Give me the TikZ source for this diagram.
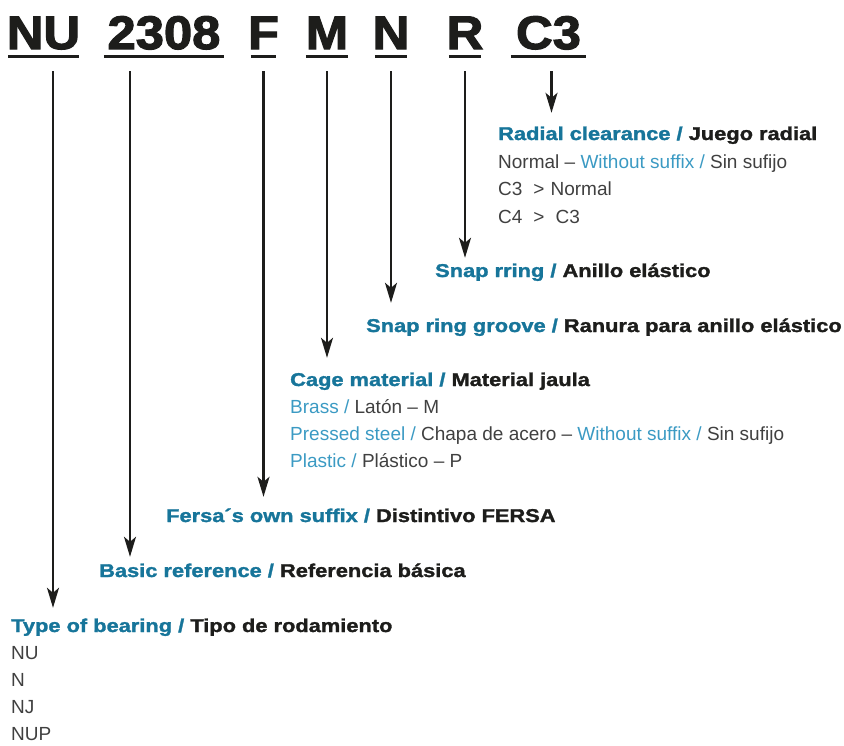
\documentclass[tikz,border=0pt]{standalone}
\usepackage{fontspec}
\setmainfont{Liberation Sans}
\newfontfamily\heavyfont{Liberation Sans}[FakeStretch=1.18, FakeBold=1.6]
\newfontfamily\codefont{Liberation Sans}[FakeStretch=1.08, FakeBold=2.5]
\usetikzlibrary{positioning,arrows.meta}
\definecolor{fblue}{HTML}{17759A}
\definecolor{lblue}{HTML}{3B9AC3}
\definecolor{ink}{HTML}{1D1D1B}
\definecolor{grey}{HTML}{404040}

\begin{document}
\begin{tikzpicture}[
    x=1pt, y=-1pt,
    code/.style={font=\codefont\bfseries\fontsize{47}{47}\selectfont, text=ink, inner sep=0pt, anchor=base}, % Stil der Bezeichnung
    head/.style={font=\heavyfont\bfseries\fontsize{18.5}{20}\selectfont, text=ink, inner sep=0pt, anchor=base west, text height=13pt, text depth=4pt}, % Stil der Ueberschriften
    item/.style={font=\fontsize{19}{21}\selectfont, text=grey, inner sep=0pt, anchor=base west}, % Stil der Zeilen
    arr/.style={draw=ink, line width=2.2pt, -{Stealth[length=20pt, width=12pt, inset=5pt]}}, % Pfeile
    uline/.style={draw=ink, line width=3pt} % Unterstreichung
]
\useasboundingbox (0,0) rectangle (844,745);

% Bezeichnung
\node[code] (nu)  at (43.5,49)  {\makebox[70pt]{NU}};
\node[code] (num) at (164,49)   {\makebox[120pt]{2308}};
\node[code] (f)   at (263.5,49) {\makebox[25pt]{F}};
\node[code] (m)   at (327,49)   {\makebox[42pt]{M}};
\node[code] (n)   at (391,49)   {\makebox[32pt]{N}};
\node[code] (r)   at (465,49)   {\makebox[32pt]{R}};
\node[code] (c)   at (548.5,49) {\makebox[75pt]{C3}};
\foreach \k in {nu,num,f,m,n,r,c}
    \draw[uline] ([yshift=-7pt]\k.base west) -- ([yshift=-7pt]\k.base east);

% Radial clearance
\node[head] (radial) at (498,140) {\textcolor{fblue}{Radial clearance /} Juego radial};
\node[item] (rad1) at ([yshift=-28pt]radial.base west) {Normal -- \textcolor{lblue}{Without suffix /} Sin sufijo};
\node[item] (rad2) at ([yshift=-27.5pt]rad1.base west) {C3\hspace{11pt}>\hspace{6pt}Normal};
\node[item] (rad3) at ([yshift=-27.5pt]rad2.base west) {C4\hspace{11pt}>\hspace{11pt}C3};

% Snap ring
\node[head] (snap)   at (435,277) {\textcolor{fblue}{Snap rring /} Anillo elástico};
\node[head] (groove) at (366,332) {\textcolor{fblue}{Snap ring groove /} Ranura para anillo elástico};

% Cage material
\node[head] (cage) at (290,386) {\textcolor{fblue}{Cage material /} Material jaula};
\node[item] (cage1) at ([yshift=-27.3pt]cage.base west)  {\textcolor{lblue}{Brass /} Latón -- M};
\node[item] (cage2) at ([yshift=-27.3pt]cage1.base west) {\textcolor{lblue}{Pressed steel /} Chapa de acero -- \textcolor{lblue}{Without suffix /} Sin sufijo};
\node[item] (cage3) at ([yshift=-27.3pt]cage2.base west) {\textcolor{lblue}{Plastic /} Plástico -- P};

% Fersa, Basic reference, Type of bearing
\node[head] (fersa) at (166,522) {\textcolor{fblue}{Fersa´s own suffix /} Distintivo FERSA};
\node[head] (basic) at (99,577)  {\textcolor{fblue}{Basic reference /} Referencia básica};
\node[head] (typ)   at (11,632)  {\textcolor{fblue}{Type of bearing /} Tipo de rodamiento};
\foreach \t [count=\i] in {NU,N,NJ,NUP}
    \node[item] (typ\i) at ([yshift=-\i*27pt]typ.base west) {\t};

% Pfeile
\draw[arr, shorten >=11pt] ([xshift=9.5pt,yshift=-22pt]nu.base) -- ([xshift=9.5pt]nu.base |- typ.north);
\draw[arr, shorten >=7pt]  ([xshift=-34pt,yshift=-22pt]num.base) -- ([xshift=-34pt]num.base |- basic.north);
\draw[arr, shorten >=12pt] ([yshift=-22pt]f.base) -- (f.base |- fersa.north);
\draw[arr, shorten >=15pt] ([yshift=-22pt]m.base) -- (m.base |- cage.north);
\draw[arr, shorten >=16pt] ([yshift=-22pt]n.base) -- (n.base |- groove.north);
\draw[arr, shorten >=6pt]  ([yshift=-22pt]r.base) -- (r.base |- snap.north);
\draw[arr, shorten >=14pt] ([xshift=3pt,yshift=-22pt]c.base) -- ([xshift=3pt]c.base |- radial.north);

\end{tikzpicture}
\end{document}
